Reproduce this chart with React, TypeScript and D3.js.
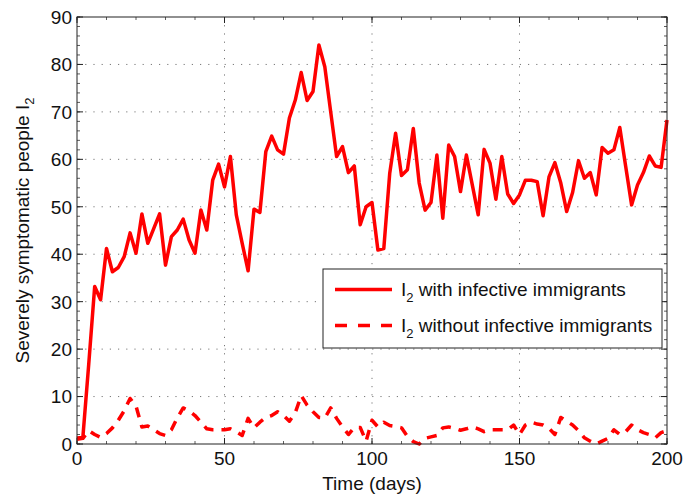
import React from "react";
import * as d3 from "d3";

const days: number[] = Array.from({ length: 101 }, (_, i) => i * 2);

const withImmigrants: number[] = [
  1.2, 1.5, 17, 33.2, 30.4, 41.2, 36.3, 37.2, 39.5, 44.5,
  40.2, 48.5, 42.3, 45.4, 48.5, 37.7, 43.7, 45.1, 47.4, 43,
  40.2, 49.3, 45.1, 55.6, 59, 54.2, 60.6, 48.3, 42.3, 36.5,
  49.5, 48.8, 61.6, 64.9, 62, 61.1, 68.7, 72.5, 78.3, 72.4,
  74.3, 84.1, 79.5, 70, 60.6, 62.7, 57.2, 58.6, 46.2, 50,
  50.9, 40.9, 41.2, 57, 65.5, 56.6, 57.8, 66.5, 55, 49.3,
  50.9, 60.9, 47.6, 63, 60.6, 53.2, 60.9, 54.6, 48.3, 62.1,
  59.2, 51.6, 60.6, 52.7, 50.7, 52.5, 55.6, 55.6, 55.3, 48.1,
  56.3, 59.3, 55, 49, 53, 59.7, 56, 57.2, 52.5, 62.5,
  61.3, 62, 66.7, 58.5, 50.4, 54.6, 57.2, 60.7, 58.6, 58.3,
  68.3,
];

const withoutImmigrants: number[] = [
  1, 1.2, 2.8, 2, 1.4, 2.2, 3.4, 5, 7, 9.6,
  8, 3.6, 3.8, 3, 2.2, 1.8, 3, 5.5, 7.6, 7,
  6, 4.6, 3.2, 3, 3, 3, 3.2, 2.6, 1.8, 5.4,
  3.4, 4.6, 5.6, 6, 6.8, 6, 4.8, 6.6, 10.2, 8.2,
  6.8, 5.6, 5.5, 7.6, 5.4, 3.6, 2, 3.5, 3.5, 0.6,
  5, 3.6, 4.6, 3.9, 3.7, 3.4, 1.6, 0.5, 0, 1.2,
  1.5, 1.8, 3.4, 3.6, 3.3, 2.9, 3.2, 3.6, 3.2, 2.6,
  3, 3, 3, 3, 4, 2, 4, 4.6, 4.2, 4,
  3.3, 2, 5.6, 4.8, 4, 2.8, 1.3, 0.6, 0, 0.6,
  1.2, 3, 2, 2.6, 4, 3, 2.4, 2, 1.3, 2.4,
  2.8,
];

const xTicks: number[] = [0, 50, 100, 150, 200];
const yTicks: number[] = [0, 10, 20, 30, 40, 50, 60, 70, 80, 90];
const xMinor: number[] = d3.range(0, 201, 10);
const yMinor: number[] = d3.range(0, 91, 2);

const legendLabels: string[] = [" with infective immigrants", " without infective immigrants"];
const xLabel = "Time (days)";
const yLabel = "Severely symptomatic people I";

const W = 691;
const H = 499;
const L = 77;
const R = 667;
const T = 17;
const B = 444;
const FONT = "'Liberation Sans', Arial, Helvetica, sans-serif";
const FS = 19;

export default function App() {
  const x = d3.scaleLinear().domain([0, 200]).range([L, R]);
  const y = d3.scaleLinear().domain([0, 90]).range([B, T]);
  const line = d3
    .line<number>()
    .x((_, i) => x(days[i]))
    .y((d) => y(d));

  const red = "#ff0000";

  return (
    <svg width={W} height={H} style={{ position: "absolute", left: 0, top: 0, background: "#fff" }} fontFamily={FONT}>
      <rect x={0} y={0} width={W} height={H} fill="#fff" />
      {/* grid */}
      {yTicks.slice(1, -1).map((t) => (
        <line key={"gy" + t} x1={L} x2={R} y1={y(t)} y2={y(t)} stroke="#555" strokeWidth={0.8} strokeDasharray="1.2,7" />
      ))}
      {xTicks.slice(1, -1).map((t) => (
        <line key={"gx" + t} x1={x(t)} x2={x(t)} y1={T} y2={B} stroke="#555" strokeWidth={0.8} strokeDasharray="1.2,7" />
      ))}
      {/* minor ticks */}
      {yMinor.map((t) => (
        <g key={"ym" + t} stroke="#333" strokeWidth={0.8}>
          <line x1={L} x2={L + 3} y1={y(t)} y2={y(t)} />
          <line x1={R} x2={R - 3} y1={y(t)} y2={y(t)} />
        </g>
      ))}
      {xMinor.map((t) => (
        <g key={"xm" + t} stroke="#333" strokeWidth={0.8}>
          <line x1={x(t)} x2={x(t)} y1={B} y2={B - 3} />
          <line x1={x(t)} x2={x(t)} y1={T} y2={T + 3} />
        </g>
      ))}
      {/* major ticks */}
      {yTicks.map((t) => (
        <g key={"yt" + t} stroke="#222" strokeWidth={1}>
          <line x1={L} x2={L + 6} y1={y(t)} y2={y(t)} />
          <line x1={R} x2={R - 6} y1={y(t)} y2={y(t)} />
        </g>
      ))}
      {xTicks.map((t) => (
        <g key={"xt" + t} stroke="#222" strokeWidth={1}>
          <line x1={x(t)} x2={x(t)} y1={B} y2={B - 6} />
          <line x1={x(t)} x2={x(t)} y1={T} y2={T + 6} />
        </g>
      ))}
      {/* data */}
      <path d={line(withImmigrants) || ""} fill="none" stroke={red} strokeWidth={3.5} strokeLinejoin="round" />
      <path d={line(withoutImmigrants) || ""} fill="none" stroke={red} strokeWidth={3.5} strokeDasharray="10,8" strokeLinejoin="round" />
      {/* axes box */}
      <rect x={L} y={T} width={R - L} height={B - T} fill="none" stroke="#222" strokeWidth={1} />
      {/* tick labels */}
      {yTicks.map((t) => (
        <text key={"yl" + t} x={L - 5} y={y(t)} dy="0.36em" textAnchor="end" fontSize={FS} fill="#111">
          {t}
        </text>
      ))}
      {xTicks.map((t) => (
        <text key={"xl" + t} x={x(t)} y={B + 21} textAnchor="middle" fontSize={FS} fill="#111">
          {t}
        </text>
      ))}
      <text x={(L + R) / 2} y={B + 46} textAnchor="middle" fontSize={FS} fill="#111">
        {xLabel}
      </text>
      <text transform={`translate(29,${(T + B) / 2}) rotate(-90)`} textAnchor="middle" fontSize={FS} fill="#111">
        {yLabel}
        <tspan dy={5} fontSize={13}>2</tspan>
      </text>
      {/* legend */}
      <g>
        <rect x={323} y={269} width={339} height={79} fill="#fff" stroke="#222" strokeWidth={1} />
        <line x1={335} x2={392} y1={289.5} y2={289.5} stroke={red} strokeWidth={3.5} />
        <line x1={335} x2={392} y1={325.5} y2={325.5} stroke={red} strokeWidth={3.5} strokeDasharray="12,11" />
        {legendLabels.map((lab, i) => (
          <text key={"lg" + i} x={401} y={296 + i * 36} fontSize={FS} fill="#111">
            I<tspan dy={6} fontSize={13}>2</tspan>
            <tspan dy={-6}>{lab}</tspan>
          </text>
        ))}
      </g>
    </svg>
  );
}
